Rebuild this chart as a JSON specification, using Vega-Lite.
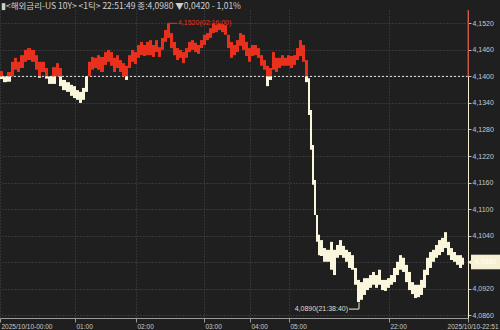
{
"$schema": "https://vega.github.io/schema/vega-lite/v6.json",
"autosize": "none",
"width": 468,
"height": 308,
"padding": {"top": 10, "left": 0, "right": 32, "bottom": 12},
"background": "#1f1f1f",
"config": {"view": {"stroke": null}},
"resolve": {"axis": {"x": "independent", "y": "independent"}},
"datasets": {
"one": [{}],
"px": [
{"t":0,"t2":3,"hi":4.1412,"lo":4.1400},{"t":0,"t2":3,"hi":4.1400,"lo":4.1394},
{"t":3,"t2":7,"hi":4.1400,"lo":4.1387},
{"t":7,"t2":11,"hi":4.1410,"lo":4.1400},{"t":7,"t2":11,"hi":4.1400,"lo":4.1388},
{"t":11,"t2":14,"hi":4.1433,"lo":4.1400},
{"t":14,"t2":17,"hi":4.1442,"lo":4.1415},
{"t":17,"t2":20,"hi":4.1433,"lo":4.1410},
{"t":20,"t2":24,"hi":4.1448,"lo":4.1419},
{"t":24,"t2":27,"hi":4.1460,"lo":4.1433},
{"t":27,"t2":31,"hi":4.1464,"lo":4.1437},
{"t":31,"t2":35,"hi":4.1460,"lo":4.1433},
{"t":35,"t2":38,"hi":4.1448,"lo":4.1415},
{"t":38,"t2":41,"hi":4.1433,"lo":4.1400},{"t":38,"t2":41,"hi":4.1400,"lo":4.1397},
{"t":41,"t2":45,"hi":4.1433,"lo":4.1410},
{"t":45,"t2":48,"hi":4.1419,"lo":4.1400},{"t":45,"t2":48,"hi":4.1400,"lo":4.1395},
{"t":48,"t2":52,"hi":4.1400,"lo":4.1383},
{"t":52,"t2":56,"hi":4.1421,"lo":4.1400},{"t":52,"t2":56,"hi":4.1400,"lo":4.1383},
{"t":56,"t2":59,"hi":4.1430,"lo":4.1400},
{"t":59,"t2":62,"hi":4.1419,"lo":4.1400},{"t":59,"t2":62,"hi":4.1400,"lo":4.1378},
{"t":62,"t2":66,"hi":4.1392,"lo":4.1369},
{"t":66,"t2":70,"hi":4.1387,"lo":4.1365},
{"t":70,"t2":73,"hi":4.1381,"lo":4.1356},
{"t":73,"t2":76,"hi":4.1378,"lo":4.1351},
{"t":76,"t2":79,"hi":4.1369,"lo":4.1347},
{"t":79,"t2":82,"hi":4.1365,"lo":4.1340},
{"t":82,"t2":85,"hi":4.1374,"lo":4.1347},
{"t":85,"t2":88,"hi":4.1400,"lo":4.1365},
{"t":88,"t2":91,"hi":4.1433,"lo":4.1400},
{"t":91,"t2":94,"hi":4.1444,"lo":4.1415},
{"t":94,"t2":97,"hi":4.1442,"lo":4.1419},
{"t":97,"t2":100,"hi":4.1448,"lo":4.1415},
{"t":100,"t2":104,"hi":4.1444,"lo":4.1410},
{"t":104,"t2":107,"hi":4.1455,"lo":4.1426},
{"t":107,"t2":110,"hi":4.1460,"lo":4.1433},
{"t":110,"t2":113,"hi":4.1455,"lo":4.1424},
{"t":113,"t2":116,"hi":4.1442,"lo":4.1410},
{"t":116,"t2":119,"hi":4.1448,"lo":4.1419},
{"t":119,"t2":122,"hi":4.1437,"lo":4.1410},
{"t":122,"t2":125,"hi":4.1430,"lo":4.1400},
{"t":125,"t2":128,"hi":4.1424,"lo":4.1400},{"t":125,"t2":128,"hi":4.1400,"lo":4.1392},
{"t":128,"t2":131,"hi":4.1448,"lo":4.1419},
{"t":131,"t2":134,"hi":4.1460,"lo":4.1433},
{"t":134,"t2":137,"hi":4.1455,"lo":4.1428},
{"t":137,"t2":140,"hi":4.1471,"lo":4.1442},
{"t":140,"t2":143,"hi":4.1478,"lo":4.1448},
{"t":143,"t2":146,"hi":4.1471,"lo":4.1446},
{"t":146,"t2":149,"hi":4.1478,"lo":4.1448},
{"t":149,"t2":152,"hi":4.1482,"lo":4.1448},
{"t":152,"t2":155,"hi":4.1471,"lo":4.1444},
{"t":155,"t2":158,"hi":4.1482,"lo":4.1455},
{"t":158,"t2":161,"hi":4.1466,"lo":4.1444},
{"t":161,"t2":164,"hi":4.1487,"lo":4.1460},
{"t":164,"t2":167,"hi":4.1505,"lo":4.1478},
{"t":167,"t2":170,"hi":4.1520,"lo":4.1487},
{"t":170,"t2":173,"hi":4.1498,"lo":4.1464},
{"t":173,"t2":176,"hi":4.1478,"lo":4.1448},
{"t":176,"t2":179,"hi":4.1464,"lo":4.1437},
{"t":179,"t2":182,"hi":4.1460,"lo":4.1442},
{"t":182,"t2":185,"hi":4.1455,"lo":4.1430},
{"t":185,"t2":188,"hi":4.1464,"lo":4.1442},
{"t":188,"t2":191,"hi":4.1478,"lo":4.1455},
{"t":191,"t2":194,"hi":4.1482,"lo":4.1460},
{"t":194,"t2":197,"hi":4.1476,"lo":4.1455},
{"t":197,"t2":200,"hi":4.1471,"lo":4.1451},
{"t":200,"t2":203,"hi":4.1482,"lo":4.1464},
{"t":203,"t2":206,"hi":4.1494,"lo":4.1471},
{"t":206,"t2":209,"hi":4.1498,"lo":4.1482},
{"t":209,"t2":212,"hi":4.1509,"lo":4.1487},
{"t":212,"t2":215,"hi":4.1520,"lo":4.1498},
{"t":215,"t2":218,"hi":4.1516,"lo":4.1500},
{"t":218,"t2":221,"hi":4.1520,"lo":4.1505},
{"t":221,"t2":224,"hi":4.1518,"lo":4.1500},
{"t":224,"t2":227,"hi":4.1516,"lo":4.1494},
{"t":227,"t2":230,"hi":4.1494,"lo":4.1464},
{"t":230,"t2":233,"hi":4.1478,"lo":4.1442},
{"t":233,"t2":236,"hi":4.1471,"lo":4.1448},
{"t":236,"t2":239,"hi":4.1482,"lo":4.1455},
{"t":239,"t2":242,"hi":4.1498,"lo":4.1469},
{"t":242,"t2":245,"hi":4.1494,"lo":4.1460},
{"t":245,"t2":248,"hi":4.1478,"lo":4.1446},
{"t":248,"t2":251,"hi":4.1464,"lo":4.1433},
{"t":251,"t2":254,"hi":4.1471,"lo":4.1446},
{"t":254,"t2":257,"hi":4.1471,"lo":4.1448},
{"t":257,"t2":260,"hi":4.1464,"lo":4.1442},
{"t":260,"t2":263,"hi":4.1448,"lo":4.1424},
{"t":263,"t2":266,"hi":4.1437,"lo":4.1415},
{"t":266,"t2":269,"hi":4.1424,"lo":4.1400},{"t":266,"t2":269,"hi":4.1400,"lo":4.1378},
{"t":269,"t2":272,"hi":4.1419,"lo":4.1400},{"t":269,"t2":272,"hi":4.1400,"lo":4.1392},
{"t":272,"t2":275,"hi":4.1455,"lo":4.1415},
{"t":275,"t2":278,"hi":4.1442,"lo":4.1410},
{"t":278,"t2":281,"hi":4.1442,"lo":4.1419},
{"t":281,"t2":284,"hi":4.1448,"lo":4.1424},
{"t":284,"t2":287,"hi":4.1442,"lo":4.1424},
{"t":287,"t2":290,"hi":4.1448,"lo":4.1424},
{"t":290,"t2":293,"hi":4.1446,"lo":4.1419},
{"t":293,"t2":296,"hi":4.1448,"lo":4.1426},
{"t":296,"t2":299,"hi":4.1464,"lo":4.1437},
{"t":299,"t2":302,"hi":4.1482,"lo":4.1446},
{"t":302,"t2":305,"hi":4.1471,"lo":4.1433},
{"t":305,"t2":308,"hi":4.1437,"lo":4.1400},{"t":305,"t2":308,"hi":4.1400,"lo":4.1387},
{"t":308,"t2":310,"hi":4.1396,"lo":4.1313},
{"t":310,"t2":312,"hi":4.1324,"lo":4.1234},
{"t":312,"t2":314,"hi":4.1245,"lo":4.1155},
{"t":314,"t2":316,"hi":4.1166,"lo":4.1087},
{"t":316,"t2":318,"hi":4.1087,"lo":4.1026},
{"t":318,"t2":320,"hi":4.1042,"lo":4.0996},
{"t":320,"t2":323,"hi":4.1030,"lo":4.0994},
{"t":323,"t2":326,"hi":4.1012,"lo":4.0981},
{"t":326,"t2":330,"hi":4.1008,"lo":4.0981},
{"t":330,"t2":333,"hi":4.1026,"lo":4.0963},
{"t":333,"t2":336,"hi":4.1008,"lo":4.0951},
{"t":336,"t2":339,"hi":4.1019,"lo":4.0990},
{"t":339,"t2":342,"hi":4.1030,"lo":4.0996},
{"t":342,"t2":345,"hi":4.1017,"lo":4.0990},
{"t":345,"t2":348,"hi":4.1008,"lo":4.0981},
{"t":348,"t2":351,"hi":4.1003,"lo":4.0967},
{"t":351,"t2":354,"hi":4.0996,"lo":4.0963},
{"t":354,"t2":357,"hi":4.0967,"lo":4.0929},
{"t":357,"t2":360,"hi":4.0940,"lo":4.0890},
{"t":360,"t2":363,"hi":4.0935,"lo":4.0895},
{"t":363,"t2":366,"hi":4.0944,"lo":4.0906},
{"t":366,"t2":369,"hi":4.0944,"lo":4.0917},
{"t":369,"t2":372,"hi":4.0951,"lo":4.0922},
{"t":372,"t2":375,"hi":4.0958,"lo":4.0929},
{"t":375,"t2":378,"hi":4.0951,"lo":4.0922},
{"t":378,"t2":381,"hi":4.0963,"lo":4.0929},
{"t":381,"t2":384,"hi":4.0940,"lo":4.0917},
{"t":384,"t2":387,"hi":4.0940,"lo":4.0915},
{"t":387,"t2":390,"hi":4.0944,"lo":4.0922},
{"t":390,"t2":393,"hi":4.0951,"lo":4.0929},
{"t":393,"t2":396,"hi":4.0967,"lo":4.0935},
{"t":396,"t2":399,"hi":4.0981,"lo":4.0951},
{"t":399,"t2":402,"hi":4.0996,"lo":4.0963},
{"t":402,"t2":405,"hi":4.0990,"lo":4.0958},
{"t":405,"t2":408,"hi":4.0974,"lo":4.0935},
{"t":408,"t2":411,"hi":4.0958,"lo":4.0917},
{"t":411,"t2":414,"hi":4.0935,"lo":4.0908},
{"t":414,"t2":417,"hi":4.0929,"lo":4.0899},
{"t":417,"t2":420,"hi":4.0929,"lo":4.0901},
{"t":420,"t2":423,"hi":4.0940,"lo":4.0906},
{"t":423,"t2":426,"hi":4.0963,"lo":4.0922},
{"t":426,"t2":429,"hi":4.0990,"lo":4.0951},
{"t":429,"t2":432,"hi":4.1003,"lo":4.0967},
{"t":432,"t2":435,"hi":4.1008,"lo":4.0981},
{"t":435,"t2":438,"hi":4.1019,"lo":4.0990},
{"t":438,"t2":441,"hi":4.1030,"lo":4.0996},
{"t":441,"t2":444,"hi":4.1035,"lo":4.1003},
{"t":444,"t2":447,"hi":4.1048,"lo":4.1012},
{"t":447,"t2":450,"hi":4.1026,"lo":4.0996},
{"t":450,"t2":453,"hi":4.1012,"lo":4.0985},
{"t":453,"t2":456,"hi":4.1003,"lo":4.0981},
{"t":456,"t2":459,"hi":4.0996,"lo":4.0974},
{"t":459,"t2":462,"hi":4.0996,"lo":4.0967},
{"t":462,"t2":464,"hi":4.0990,"lo":4.0974}
]
},
"layer": [
{
"data": {"name": "px"},
"mark": {"type": "rect", "opacity": 0},
"encoding": {
"x": {"field": "t", "type": "quantitative", "scale": {"domain": [0, 468], "nice": false, "zero": false},
"axis": {"orient": "bottom", "title": null, "values": [0, 75, 136, 204, 250, 289, 389, 468],
"labelExpr": "datum.value == 0 ? '2025/10/10-00:00' : datum.value == 75 ? '01:00' : datum.value == 136 ? '02:00' : datum.value == 204 ? '03:00' : datum.value == 250 ? '04:00' : datum.value == 289 ? '05:00' : datum.value == 389 ? '22:00' : '2025/10/10-22:51'",
"labelAlign": {"condition": {"test": "datum.value == 468", "value": "right"}, "value": "left"},
"labelOffset": {"condition": {"test": "datum.value == 468", "value": 30}, "value": 1},
"labelFont": "Liberation Sans", "labelFontSize": 6.5, "labelColor": "#c8c8c8", "labelPadding": 1, "labelFlush": false, "labelOverlap": false, "labelBound": false,
"domainColor": "#9a9a9a", "tickColor": "#9a9a9a", "tickSize": 4,
"grid": true, "gridColor": "#4a4a4a", "gridDash": [1, 2]}},
"x2": {"field": "t2"},
"y": {"field": "hi", "type": "quantitative", "scale": {"domain": [4.08539, 4.15501], "nice": false, "zero": false},
"axis": {"orient": "right", "title": null, "values": [4.086, 4.092, 4.098, 4.104, 4.11, 4.116, 4.122, 4.128, 4.134, 4.14, 4.146, 4.152],
"labelExpr": "abs(datum.value - 4.098) < 0.0001 ? '' : replace(format(datum.value, '.4f'), '.', ',')",
"labelFont": "Liberation Sans", "labelFontSize": 7, "labelColor": "#c8c8c8", "labelPadding": 1, "labelBound": false, "labelFlush": false, "labelOverlap": false,
"domainColor": "#f5f0d2", "tickColor": "#bbbbbb", "tickSize": 3,
"grid": true, "gridColor": "#505050", "gridDash": [1, 2]}},
"y2": {"field": "lo"}
}
},
{
"data": {"name": "one"},
"mark": {"type": "text", "color": "#d0d0d0", "align": "left", "baseline": "middle", "font": "Noto Sans CJK KR", "fontSize": 8.5},
"encoding": {"x": {"datum": 1, "axis": null}, "y": {"datum": 4.1559, "axis": null}, "text": {"value": "▮<해외금리-US 10Y> <1틱> 22:51:49 종:4,0980 ▼0,0420  - 1,01%"}}
},
{
"data": {"name": "one"},
"mark": {"type": "rule", "color": "#e6e6e6", "strokeDash": [2, 2], "strokeWidth": 1},
"encoding": {"y": {"datum": 4.14, "axis": null}}
},
{
"data": {"name": "one"},
"mark": {"type": "rule", "color": "#e8301c", "strokeWidth": 1},
"encoding": {"x": {"datum": 168, "axis": null}, "x2": {"datum": 177}, "y": {"datum": 4.152, "axis": null}}
},
{
"data": {"name": "one"},
"mark": {"type": "text", "color": "#e8301c", "align": "left", "baseline": "middle", "font": "Liberation Sans", "fontSize": 7},
"encoding": {"x": {"datum": 178, "axis": null}, "y": {"datum": 4.152, "axis": null}, "text": {"value": "4,1520(02:16:00)"}}
},
{
"data": {"name": "one"},
"mark": {"type": "rule", "color": "#f5f0d2", "strokeWidth": 1},
"encoding": {"x": {"datum": 349, "axis": null}, "x2": {"datum": 359}, "y": {"datum": 4.0874, "axis": null}}
},
{
"data": {"name": "one"},
"mark": {"type": "rule", "color": "#f5f0d2", "strokeWidth": 1},
"encoding": {"x": {"datum": 359, "axis": null}, "y": {"datum": 4.0874, "axis": null}, "y2": {"datum": 4.0889}}
},
{
"data": {"name": "one"},
"mark": {"type": "text", "color": "#e0dcc4", "align": "right", "baseline": "middle", "font": "Liberation Sans", "fontSize": 7},
"encoding": {"x": {"datum": 348, "axis": null}, "y": {"datum": 4.0874, "axis": null}, "text": {"value": "4,0890(21:38:40)"}}
},
{
"data": {"name": "px"},
"mark": {"type": "rect"},
"encoding": {
"x": {"field": "t", "type": "quantitative", "axis": null},
"x2": {"field": "t2"},
"y": {"field": "hi", "type": "quantitative", "axis": null},
"y2": {"field": "lo"},
"color": {"condition": {"test": "datum.lo >= 4.14", "value": "#e8301c"}, "value": "#faf6dc"}
}
},
{
"data": {"name": "one"},
"mark": {"type": "rule", "color": "#c0281a", "strokeWidth": 1.5},
"encoding": {"x": {"datum": 468, "axis": null}, "y": {"datum": 4.14, "axis": null}, "y2": {"datum": 4.15501}}
},
{
"data": {"name": "one"},
"mark": {"type": "rect", "color": "#f5f0d2"},
"encoding": {"x": {"datum": 471, "axis": null}, "x2": {"datum": 500}, "y": {"datum": 4.0997, "axis": null}, "y2": {"datum": 4.0964}}
},
{
"data": {"name": "one"},
"mark": {"type": "point", "shape": "triangle-left", "filled": true, "color": "#f5f0d2", "size": 30, "opacity": 1},
"encoding": {"x": {"datum": 470, "axis": null}, "y": {"datum": 4.0980, "axis": null}}
},
{
"data": {"name": "one"},
"mark": {"type": "text", "color": "#ffffff", "align": "center", "baseline": "middle", "font": "Liberation Sans", "fontSize": 7},
"encoding": {"x": {"datum": 485.5, "axis": null}, "y": {"datum": 4.0980, "axis": null}, "text": {"value": "4,0980"}}
}
]
}
